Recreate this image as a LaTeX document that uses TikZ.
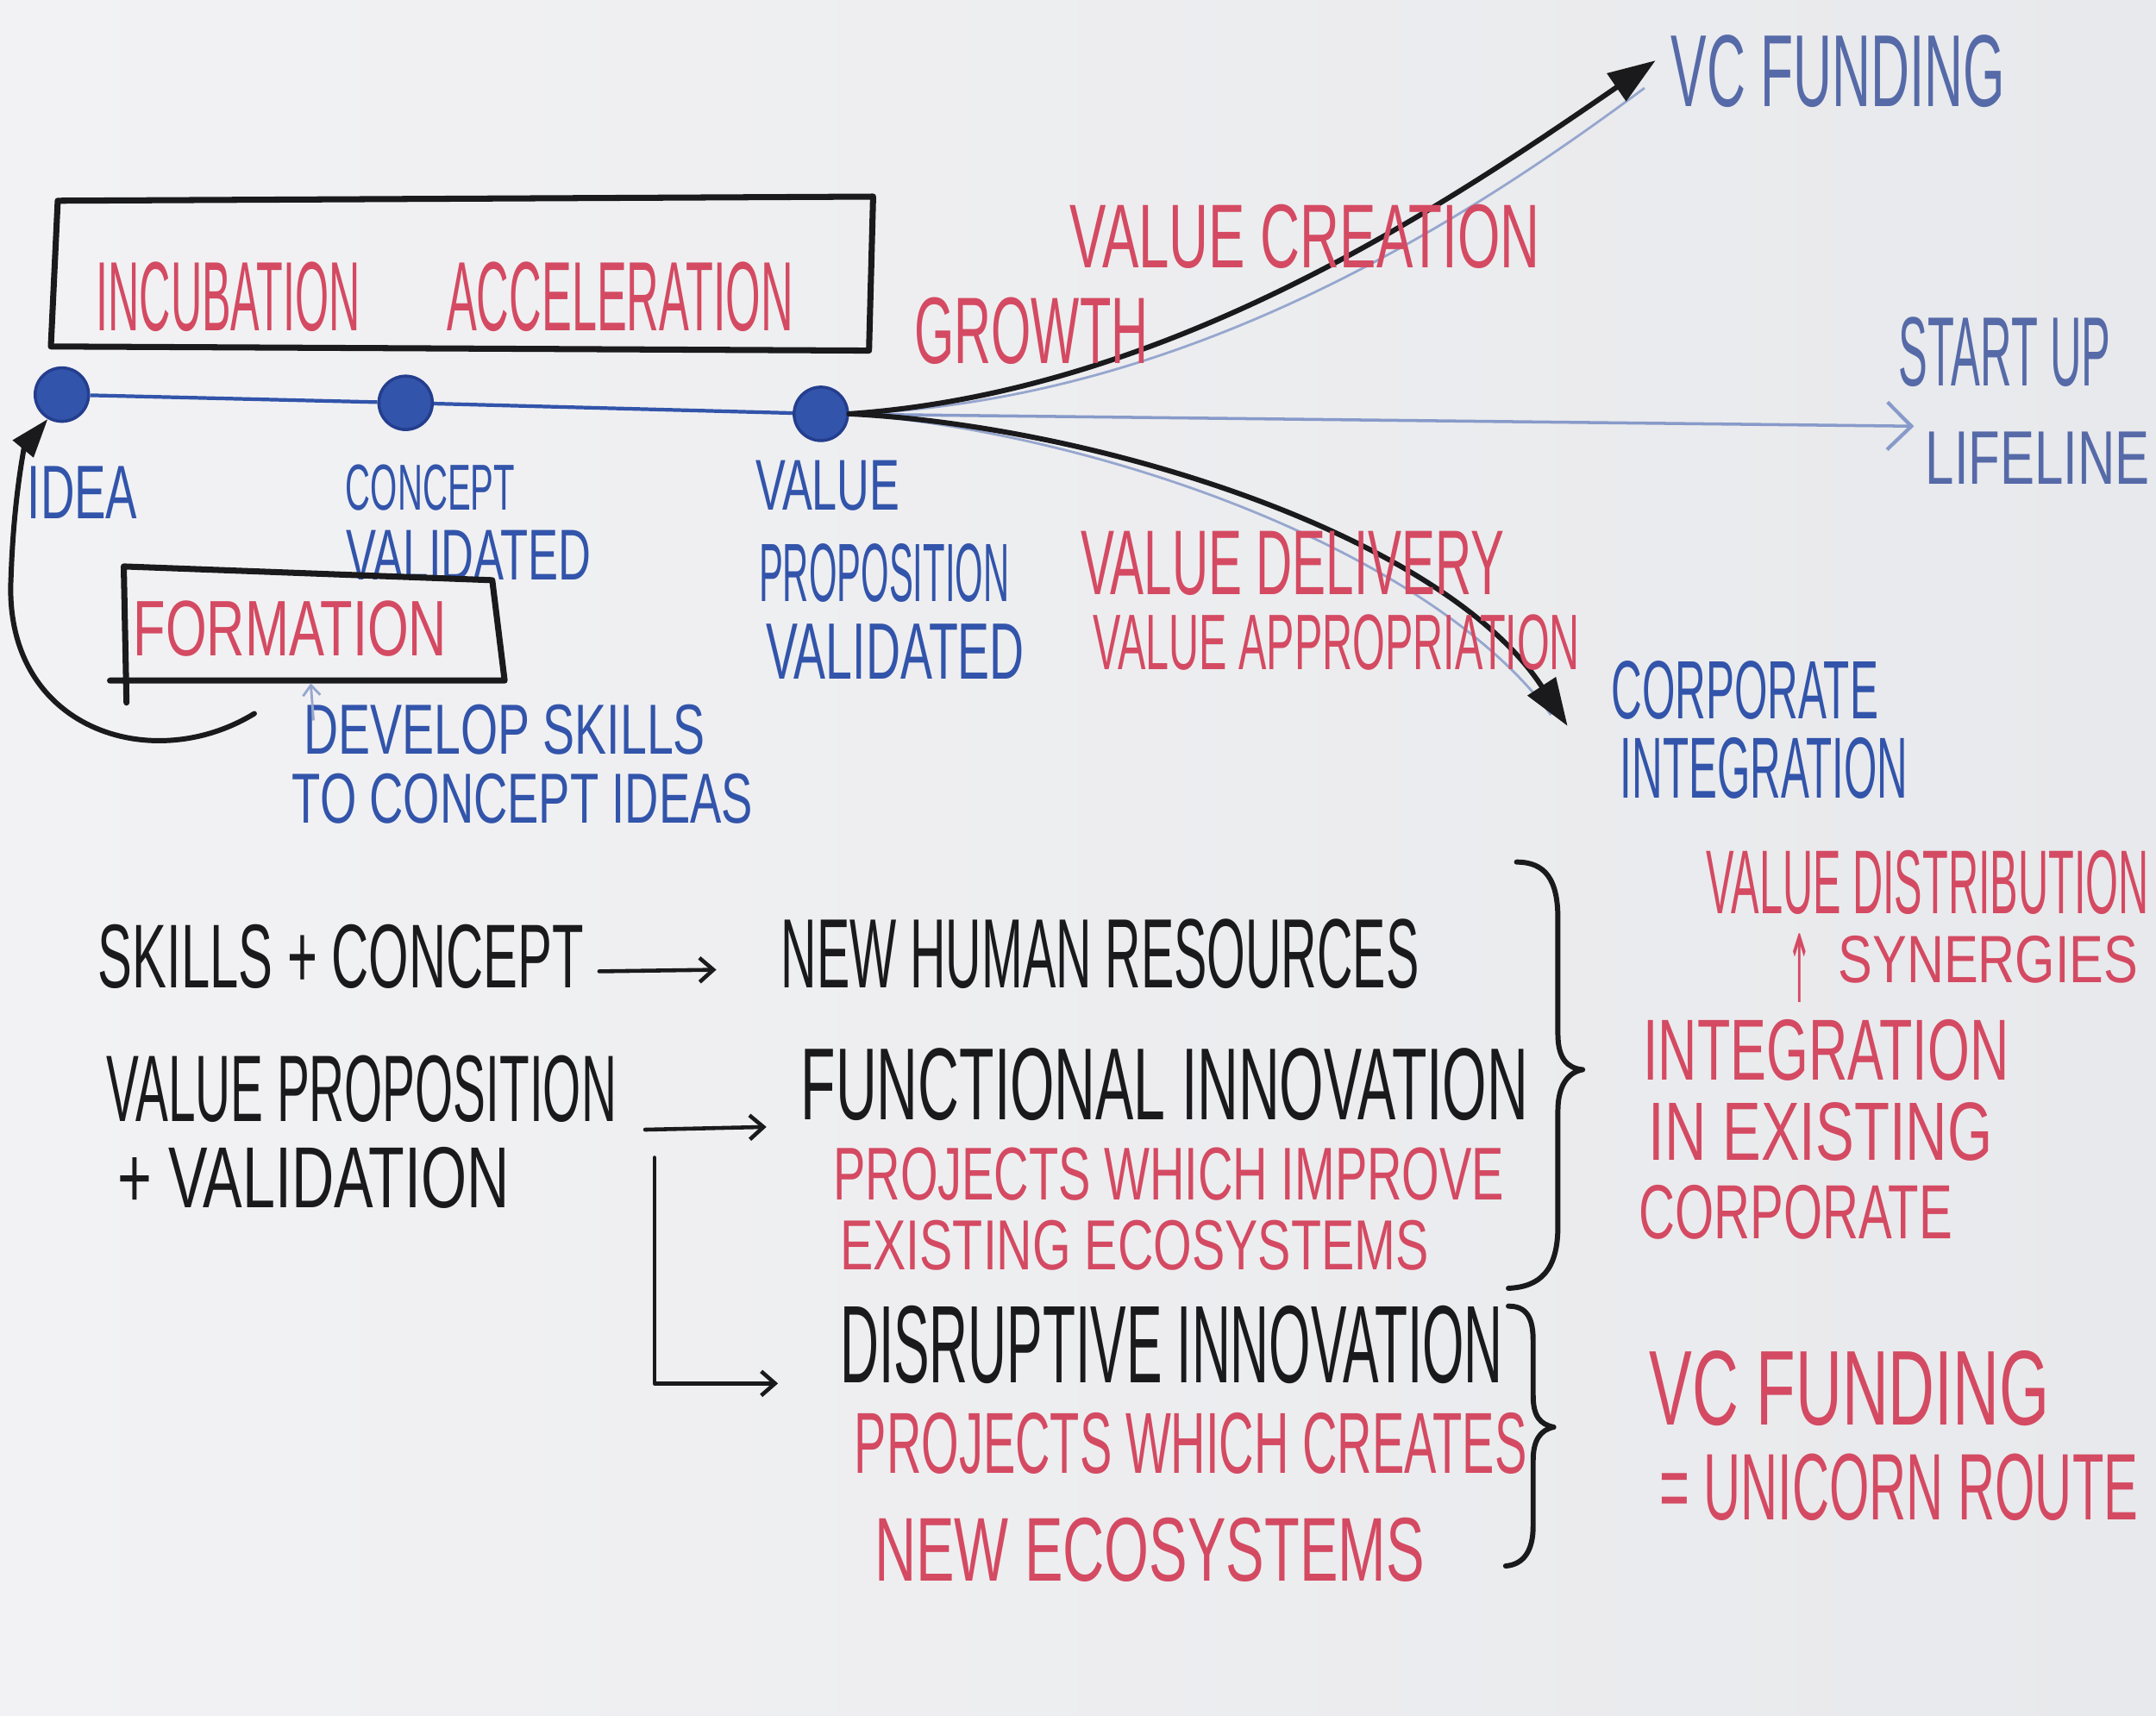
\documentclass[tikz,border=0pt]{standalone}
\usepackage{fontspec}
\setmainfont{Liberation Sans}
\newfontfamily\symf{DejaVu Sans}
\usepackage{graphicx}
\usetikzlibrary{arrows.meta}
\newlength\uu \setlength\uu{0.015944cm}
\newcommand\hw[3]{\resizebox{#1\uu}{#2\uu}{#3}}
\definecolor{mred}{RGB}{212,74,98}
\definecolor{mblue}{RGB}{50,84,170}
\definecolor{lblue}{RGB}{86,106,168}
\definecolor{dblue}{RGB}{36,62,142}
\definecolor{mblack}{RGB}{26,26,28}
\definecolor{ghost}{RGB}{150,166,206}
\definecolor{bgl}{RGB}{242,242,244}
\definecolor{bgr}{RGB}{232,233,236}
\begin{document}
\begin{tikzpicture}[x=0.015944cm,y=-0.015944cm,
  txt/.style={inner sep=0pt,outer sep=0pt,font=\mdseries},
  rd/.style={txt,text=mred},
  bl/.style={txt,text=mblue},
  lb/.style={txt,text=lblue},
  bk/.style={txt,text=mblack},
  dot/.style={circle,fill=mblue,draw=dblue,line width=1pt,minimum size=0.62cm,inner sep=0pt},
  pen/.style={draw=mblack,line width=1.7pt,line cap=round,line join=round},
  boxpen/.style={draw=mblack,line width=2pt,line cap=round,line join=round},
  tpen/.style={draw=mblack,line width=1.3pt,line cap=round,line join=round,-{Straight Barb[length=0.16cm,width=0.28cm]}},
  tl/.style={draw=mblue,line width=1.2pt},
  life/.style={draw=ghost!85!mblue,line width=1pt,-{Straight Barb[length=0.28cm,width=0.55cm,line width=1.2pt]}},
  ghostline/.style={draw=ghost,line width=0.8pt},
  bigtip/.style={-{Triangle[length=0.55cm,width=0.38cm]}}
]
\useasboundingbox (0,0) rectangle (1568,1248);
\shade[left color=bgl,right color=bgr] (0,0) rectangle (1568,1248);

% top box
\draw[boxpen] (42,146) -- (635,143) -- (632,255) -- (37,252) -- cycle;
\node[rd] (incub) at (166,216) {\hw{192}{50}{INCUBATION}};
\node[rd] (accel) at (451,216) {\hw{252}{50}{ACCELERATION}};

% timeline dots
\node[dot] (d1) at (45,287) {};
\node[dot] (d2) at (295,293) {};
\node[dot] (d3) at (597,301) {};

% ghost blue branches
\coordinate (vcg) at (1196,64);
\coordinate (cig) at (1128,520);
\draw[ghostline] (d3.east) .. controls (860,292) and (1060,165) .. (vcg);
\draw[ghostline] (d3.east) .. controls (800,315) and (1040,400) .. (cig);

% timeline
\draw[tl] (d1) -- (d2) -- (d3);
\coordinate (lifeend) at (1392,310);
\draw[life] (d3) -- (lifeend);

% labels under timeline
\node[bl] (idea) at (60,358) {\hw{80}{38}{IDEA}};
\node[bl] (concept) at (313,355) {\hw{123}{33}{CONCEPT}};
\node[bl] (valid1) at (341,404) {\hw{178}{36}{VALIDATED}};
\node[bl] (value) at (602,353) {\hw{105}{36}{VALUE}};
\node[bl] (propos) at (643,417) {\hw{182}{42}{PROPOSITION}};
\node[bl] (valid2) at (651,474) {\hw{188}{40}{VALIDATED}};

% formation box
\draw[boxpen] (92,511) -- (90,412) -- (358,422) -- (367,495) -- (80,495);
\node[rd] (form) at (211,457) {\hw{228}{40}{FORMATION}};
\node[bl] (devel) at (367,531) {\hw{292}{36}{DEVELOP SKILLS}};
\node[bl] (toconc) at (380,581) {\hw{335}{36}{TO CONCEPT IDEAS}};
\coordinate (devtop) at (228,524);
\coordinate (formbot) at (226,497);
\draw[ghostline,-{Straight Barb[length=0.12cm,width=0.2cm]}] (devtop) -- (formbot);

% back arrow to idea
\draw[pen,-{Triangle[length=0.45cm,width=0.3cm]}] (185,519) .. controls (110,565) and (2,530) .. (8,420) .. controls (10,360) and (18,325) .. (d1.240);

% growth arrows
\coordinate (vctip) at (1204,44);
\coordinate (citip) at (1140,528);
\draw[pen,bigtip] (d3.east) .. controls (850,285) and (1050,150) .. (vctip);
\draw[pen,bigtip] (d3.east) .. controls (800,310) and (1050,390) .. (citip);

\node[rd] (growth) at (750,241) {\hw{170}{48}{GROWTH}};
\node[rd] (vcreat) at (949,172) {\hw{342}{46}{VALUE CREATION}};
\node[rd] (vdeliv) at (940,410) {\hw{308}{46}{VALUE DELIVERY}};
\node[rd] (vappro) at (972,467) {\hw{354}{40}{VALUE APPROPRIATION}};

\node[lb] (vcf) at (1337,52) {\hw{243}{52}{VC FUNDING}};
\node[lb] (startup) at (1458,256) {\hw{154}{50}{START UP}};
\node[lb] (lifel) at (1482,333) {\hw{163}{38}{LIFELINE}};
\node[bl] (corp) at (1269,502) {\hw{194}{42}{CORPORATE}};
\node[bl] (integ) at (1283,559) {\hw{209}{44}{INTEGRATION}};

% lower section
\node[bk] (skills) at (248,696) {\hw{353}{46}{SKILLS + CONCEPT}};
\node[bk] (nhr) at (800,694) {\hw{464}{50}{NEW HUMAN RESOURCES}};
\node[bk] (valprop) at (263,792) {\hw{371}{48}{VALUE PROPOSITION}};
\node[bk] (plusval) at (228,857) {\hw{285}{44}{+ VALIDATION}};
\node[bk] (funct) at (847,789) {\hw{529}{52}{FUNCTIONAL INNOVATION}};
\node[rd] (improve) at (850,854) {\hw{488}{38}{PROJECTS WHICH IMPROVE}};
\node[rd] (existeco) at (825,906) {\hw{428}{36}{EXISTING ECOSYSTEMS}};
\node[bk] (disrupt) at (852,978) {\hw{482}{56}{DISRUPTIVE INNOVATION}};
\node[rd] (creates) at (866,1050) {\hw{489}{44}{PROJECTS WHICH CREATES}};
\node[rd] (neweco) at (836,1127) {\hw{400}{46}{NEW ECOSYSTEMS}};

\draw[tpen,shorten <=0.18cm,shorten >=0.75cm] ([yshift=-0.17cm]skills.east) -- ([yshift=-0.17cm]nhr.west);
\draw[tpen,shorten <=0.33cm,shorten >=0.4cm] ([yshift=-0.48cm]valprop.east) -- ([yshift=-0.48cm]funct.west);
\coordinate (elbowtop) at (476,842);
\draw[tpen,shorten >=0.72cm] (elbowtop) |- ([yshift=-0.45cm]disrupt.west);

% braces
\draw[pen] (1103,627) .. controls (1124,627) and (1133,640) .. (1133,668) -- (1133,752)
  .. controls (1133,770) and (1140,777) .. (1151,778)
  .. controls (1140,780) and (1133,790) .. (1133,808) -- (1133,892)
  .. controls (1133,924) and (1120,936) .. (1097,937);
\draw[pen] (1097,950) .. controls (1110,950) and (1115,958) .. (1115,975) -- (1115,1015)
  .. controls (1115,1030) and (1120,1036) .. (1130,1038)
  .. controls (1120,1040) and (1115,1048) .. (1115,1062) -- (1115,1110)
  .. controls (1115,1128) and (1108,1138) .. (1095,1139);

% right notes
\node[rd] (vdist) at (1402,642) {\hw{322}{46}{VALUE DISTRIBUTION}};
\node[rd] (uparr) at (1309,704) {\resizebox{18\uu}{50\uu}{\symf ↑}};
\node[rd] (syn) at (1446,698) {\hw{218}{34}{SYNERGIES}};
\node[rd] (integ2) at (1328,764) {\hw{266}{44}{INTEGRATION}};
\node[rd] (inex) at (1324,823) {\hw{250}{42}{IN EXISTING}};
\node[rd] (corp2) at (1306,882) {\hw{228}{39}{CORPORATE}};
\node[rd] (vcf2) at (1345,1010) {\hw{291}{54}{VC FUNDING}};
\node[rd] (unic) at (1381,1082) {\hw{348}{48}{= UNICORN ROUTE}};
\end{tikzpicture}
\end{document}
